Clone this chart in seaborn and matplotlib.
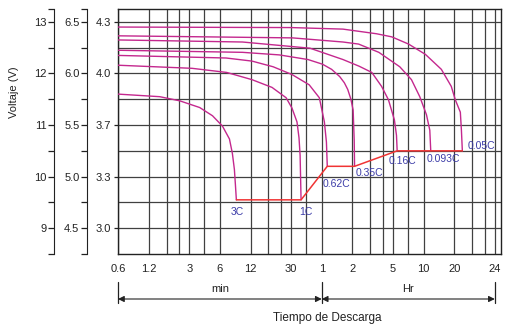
import numpy as np
import pandas as pd
import matplotlib
matplotlib.use("Agg")
import matplotlib.pyplot as plt
import seaborn as sns
from matplotlib.transforms import blended_transform_factory

# -----------------------------
# Data (time in minutes, voltage on the 12 V scale)
# -----------------------------
t_3c = [0.6, 1.54, 2.42, 3.8, 5.08, 6.36, 7.45, 7.96, 8.33, 8.52, 8.71]
v_3c = [11.60, 11.55, 11.47, 11.34, 11.18, 10.98, 10.73, 10.45, 10.14, 9.85, 9.55]

t_1c = [0.6, 3.2, 7.0, 12.4, 19.5, 26.8, 30.6, 34.3, 35.9, 36.8, 37.6]
v_1c = [12.16, 12.10, 12.02, 11.88, 11.73, 11.53, 11.33, 11.06, 10.75, 10.41, 9.55]

t_062 = [0.6, 6.9, 12.4, 20, 30.6, 45.2, 56.8, 63.7, 66.7, 68]
v_062 = [12.35, 12.30, 12.24, 12.13, 11.98, 11.78, 11.53, 11.06, 10.67, 10.20]

t_035 = [0.6, 10, 23, 44, 61, 75, 90, 100, 108, 116, 122, 125, 126]
v_035 = [12.45, 12.41, 12.36, 12.27, 12.18, 12.08, 11.94, 11.82, 11.69, 11.50, 11.29, 10.70, 10.20]

t_016 = [0.6, 10, 46, 97, 140, 186, 232, 271, 310, 325, 330]
v_016 = [12.65, 12.61, 12.49, 12.27, 12.14, 12.02, 11.75, 11.49, 11.10, 10.80, 10.50]

t_0093 = [0.6, 31, 97, 138, 218, 350, 456, 550, 640, 690, 705]
v_0093 = [12.73, 12.69, 12.61, 12.57, 12.41, 12.13, 11.88, 11.55, 11.20, 10.90, 10.50]

t_005 = [0.6, 30, 97, 207, 292, 427, 625, 896, 1121, 1228, 1376, 1410, 1440]
v_005 = [12.90, 12.89, 12.86, 12.77, 12.71, 12.57, 12.37, 12.08, 11.75, 11.49, 11.25, 10.90, 10.50]

# end-of-discharge line
t_cut = [8.71, 37.6, 68, 126, 330, 705, 1440]
v_cut = [9.55, 9.55, 10.2, 10.2, 10.5, 10.5, 10.5]

rate_labels = ["3C", "1C", "0.62C", "0.35C", "0.16C", "0.093C", "0.05C"]
label_t = [8.9, 42, 84, 175, 370, 945, 2200]
label_v = [9.31, 9.31, 9.86, 10.08, 10.31, 10.35, 10.60]

# axis ticks
y_ticks = [9, 10, 11, 12, 13]
y_labels_12v = ["9", "10", "11", "12", "13"]
y_labels_6v = ["4.5", "5.0", "5.5", "6.0", "6.5"]
y_labels_cell = ["3.0", "3.3", "3.7", "4.0", "4.3"]
y_half = [9.5, 10.5, 11.5, 12.5]

x_ticks = [0.6, 1.2, 3, 6, 12, 30, 60, 120, 300, 600, 1200, 3000]
x_labels = ["0.6", "1.2", "3", "6", "12", "30", "1", "2", "5", "10", "20", "24"]
x_grid = [0.6, 1.2, 1.8, 2.4, 3, 4.2, 6, 12, 18, 24, 30, 42, 60,
          120, 180, 240, 300, 420, 600, 1200, 1800, 2400, 3000]

curves = {"3C": (t_3c, v_3c), "1C": (t_1c, v_1c), "0.62C": (t_062, v_062),
          "0.35C": (t_035, v_035), "0.16C": (t_016, v_016),
          "0.093C": (t_0093, v_0093), "0.05C": (t_005, v_005)}
rows = []
for name, (ts, vs) in curves.items():
    for t, v in zip(ts, vs):
        rows.append({"rate": name, "t": t, "v": v})
df = pd.DataFrame(rows)

# -----------------------------
# Plot
# -----------------------------
sns.set_style("white")
plt.rcParams["font.family"] = ["Liberation Sans", "DejaVu Sans"]

W, H = 507, 327
fig = plt.figure(figsize=(W / 100, H / 100), dpi=100)
left, right, top, bottom = 118, 501, 9, 254
ax = fig.add_axes([left / W, 1 - bottom / H, (right - left) / W, (bottom - top) / H])

magenta = "#C4288E"
grid_col = "#404040"

ax.set_xscale("log")
ax.set_xlim(0.6, 3450)
ax.set_ylim(8.5, 13.25)

sns.lineplot(data=df, x="t", y="v", hue="rate", units="rate", estimator=None,
             sort=False, palette=[magenta] * len(curves), linewidth=1.0,
             legend=False, ax=ax, zorder=3)
sns.lineplot(x=t_cut, y=v_cut, color="#F03434", linewidth=1.1,
             sort=False, estimator=None, ax=ax, zorder=4)

for lab, t, v in zip(rate_labels, label_t, label_v):
    ax.text(t, v, lab, color="#3C3CA8", fontsize=7.5, ha="center", va="center")

# grid
ax.set_xticks(x_grid, minor=True)
ax.set_xticks(x_ticks, x_labels)
ax.set_yticks(y_ticks, y_labels_cell)
ax.set_yticks(y_half, minor=True)
ax.grid(True, which="both", color=grid_col, linewidth=0.9)
ax.tick_params(axis="x", which="both", length=0, pad=7, labelsize=8, colors="#222222")
ax.tick_params(axis="y", which="major", length=3, width=0.9, pad=2, labelsize=8, colors="#222222")
ax.tick_params(axis="y", which="minor", length=0)
for s in ax.spines.values():
    s.set_color("#222222")
    s.set_linewidth(1.0)
ax.set_xlabel("")
ax.set_ylabel("")

# extra voltage axes on the left
def extra_axis(offset, labels):
    a = ax.twinx()
    a.set_ylim(ax.get_ylim())
    for side in ["right", "top", "bottom"]:
        a.spines[side].set_visible(False)
    a.spines["left"].set_visible(True)
    a.spines["left"].set_position(("axes", offset))
    a.spines["left"].set_color("#222222")
    a.yaxis.set_ticks_position("left")
    a.set_yticks(y_ticks, labels)
    a.set_yticks(y_half + [8.5, 13.25], minor=True)
    a.tick_params(axis="y", which="both", length=4, width=0.9, pad=1.5,
                  labelsize=8, colors="#222222")
    return a

extra_axis((87 - left) / (right - left), y_labels_6v)
extra_axis((54 - left) / (right - left), y_labels_12v)

fig.text(14 / W, 1 - 92 / H, "Voltaje (V)", rotation=90, ha="center", va="center",
         fontsize=8, color="#222222")

# min / Hr span arrows under the axis
tr = blended_transform_factory(ax.transData, fig.transFigure)
y_arrow = 1 - 299 / H
for x in [0.6, 60, 3000]:
    ax.plot([x, x], [1 - 282 / H, 1 - 303 / H], color="#222222", lw=0.9,
            transform=tr, clip_on=False)
for x0, x1, lab in [(0.6, 60, "min"), (60, 3000, "Hr")]:
    ax.annotate("", xy=(x0, y_arrow), xytext=(x1, y_arrow), xycoords=tr, textcoords=tr,
                arrowprops=dict(arrowstyle="<|-|>", color="#222222", lw=0.8,
                                mutation_scale=9, shrinkA=0, shrinkB=0))
    xm = np.sqrt(x0 * x1)
    ax.text(xm, 1 - 289 / H, lab, transform=tr, ha="center", va="center",
            fontsize=8, color="#222222")

fig.text(327 / W, 1 - 318 / H, "Tiempo de Descarga", ha="center", va="center",
         fontsize=8.5, color="#222222")

fig.savefig("out.png", dpi=100)
